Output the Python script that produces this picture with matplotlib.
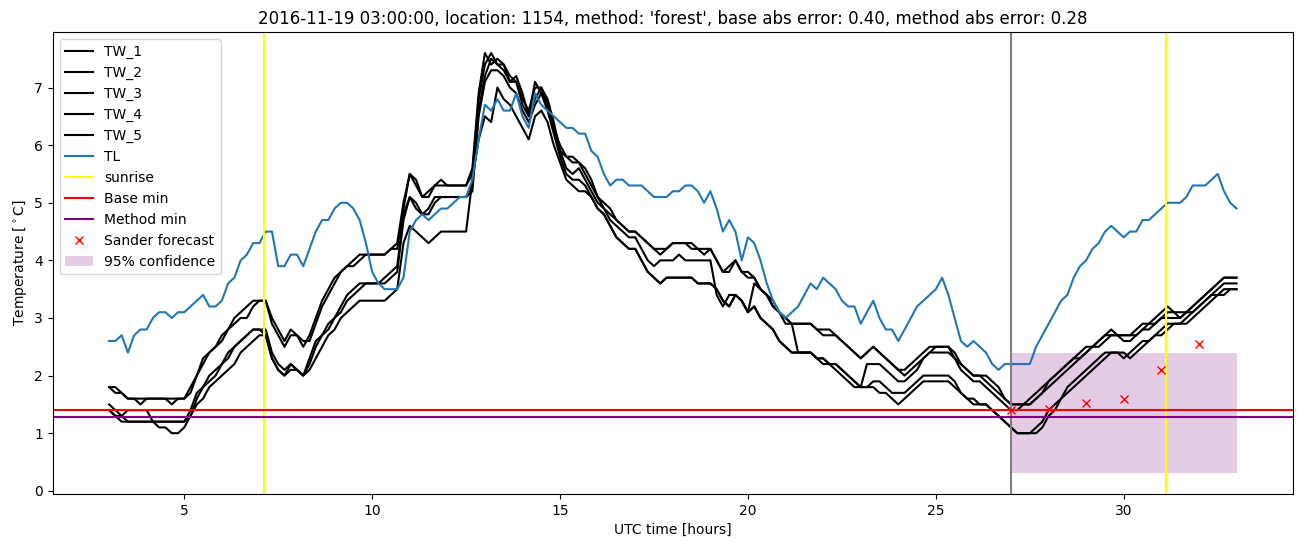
import numpy as np
import matplotlib
matplotlib.use("Agg")
import matplotlib.pyplot as plt

# time axis: 10 minute steps from 03:00 to 33:00 (UTC hours)
hours = np.linspace(3, 33, 181)

tw_1 = [1.8, 1.8, 1.7, 1.6, 1.6, 1.6, 1.6, 1.6, 1.6, 1.6, 1.6, 1.6,
        1.6, 1.8, 2.0, 2.3, 2.4, 2.5, 2.7, 2.8, 3.0, 3.1, 3.2, 3.3,
        3.3, 3.3, 3.0, 2.8, 2.6, 2.8, 2.7, 2.5, 2.7, 3.0, 3.3, 3.5,
        3.7, 3.8, 3.9, 4.0, 4.1, 4.1, 4.1, 4.1, 4.1, 4.2, 4.3, 5.0,
        5.5, 5.4, 5.1, 5.2, 5.3, 5.4, 5.3, 5.3, 5.3, 5.3, 5.6, 6.9,
        7.6, 7.4, 7.5, 7.4, 7.1, 7.2, 6.9, 6.5, 7.1, 6.9, 6.7, 6.3,
        6.0, 5.8, 5.8, 5.7, 5.6, 5.4, 5.1, 5.0, 4.9, 4.7, 4.6, 4.5,
        4.5, 4.4, 4.3, 4.2, 4.2, 4.2, 4.3, 4.3, 4.3, 4.2, 4.2, 4.2,
        4.2, 4.0, 3.8, 3.9, 4.0, 3.8, 3.8, 3.7, 3.5, 3.4, 3.3, 3.1,
        2.9, 2.9, 2.9, 2.9, 2.9, 2.8, 2.8, 2.8, 2.7, 2.6, 2.5, 2.4,
        2.3, 2.4, 2.5, 2.4, 2.3, 2.2, 2.1, 2.1, 2.2, 2.3, 2.4, 2.5,
        2.5, 2.5, 2.5, 2.4, 2.2, 2.1, 2.0, 2.0, 1.9, 1.8, 1.7, 1.6,
        1.5, 1.5, 1.5, 1.6, 1.7, 1.8, 1.9, 2.0, 2.1, 2.2, 2.3, 2.4,
        2.5, 2.5, 2.6, 2.7, 2.8, 2.7, 2.7, 2.7, 2.8, 2.9, 2.9, 3.0,
        3.1, 3.2, 3.1, 3.1, 3.1, 3.2, 3.3, 3.4, 3.5, 3.6, 3.7, 3.7,
        3.7]

tw_2 = [1.8, 1.7, 1.7, 1.6, 1.6, 1.5, 1.6, 1.6, 1.6, 1.6, 1.5, 1.6,
        1.6, 1.7, 2.0, 2.2, 2.4, 2.5, 2.6, 2.8, 2.9, 3.0, 3.0, 3.2,
        3.3, 3.3, 2.9, 2.7, 2.5, 2.7, 2.7, 2.6, 2.6, 2.9, 3.2, 3.4,
        3.6, 3.8, 3.9, 3.9, 4.0, 4.1, 4.1, 4.1, 4.1, 4.2, 4.2, 4.9,
        5.5, 5.3, 5.1, 5.1, 5.3, 5.3, 5.3, 5.3, 5.3, 5.3, 5.5, 6.8,
        7.4, 7.6, 7.4, 7.4, 7.2, 7.1, 6.8, 6.6, 7.0, 7.0, 6.8, 6.4,
        5.9, 5.8, 5.7, 5.7, 5.5, 5.3, 5.1, 4.9, 4.8, 4.7, 4.6, 4.5,
        4.5, 4.4, 4.3, 4.2, 4.1, 4.2, 4.3, 4.3, 4.3, 4.3, 4.2, 4.1,
        4.2, 4.0, 3.8, 3.8, 4.0, 3.8, 3.7, 3.7, 3.5, 3.4, 3.2, 3.1,
        3.0, 2.9, 2.9, 2.9, 2.9, 2.8, 2.7, 2.7, 2.7, 2.6, 2.5, 2.4,
        2.3, 2.4, 2.5, 2.4, 2.3, 2.2, 2.1, 2.0, 2.1, 2.2, 2.3, 2.4,
        2.5, 2.5, 2.5, 2.3, 2.2, 2.1, 2.0, 2.0, 2.0, 1.9, 1.8, 1.6,
        1.5, 1.5, 1.5, 1.5, 1.6, 1.7, 1.9, 2.0, 2.1, 2.2, 2.3, 2.3,
        2.4, 2.5, 2.6, 2.7, 2.7, 2.7, 2.7, 2.7, 2.7, 2.8, 2.9, 2.9,
        3.0, 3.1, 3.1, 3.0, 3.1, 3.2, 3.3, 3.4, 3.5, 3.6, 3.7, 3.7,
        3.7]

tw_3 = [1.5, 1.4, 1.3, 1.2, 1.2, 1.2, 1.2, 1.2, 1.2, 1.2, 1.2, 1.2,
        1.2, 1.4, 1.7, 1.8, 2.0, 2.1, 2.2, 2.4, 2.5, 2.6, 2.7, 2.8,
        2.8, 2.8, 2.4, 2.2, 2.1, 2.2, 2.1, 2.0, 2.3, 2.6, 2.7, 2.9,
        3.0, 3.2, 3.4, 3.5, 3.6, 3.6, 3.6, 3.6, 3.7, 3.8, 3.9, 4.8,
        5.1, 5.0, 4.8, 4.9, 5.1, 5.1, 5.1, 5.1, 5.1, 5.1, 5.3, 6.6,
        7.2, 7.5, 7.4, 7.3, 7.1, 7.1, 6.7, 6.5, 6.8, 7.0, 6.7, 6.3,
        5.9, 5.6, 5.5, 5.6, 5.4, 5.2, 5.0, 4.9, 4.7, 4.6, 4.5, 4.4,
        4.4, 4.2, 4.0, 3.9, 4.0, 4.0, 4.0, 4.1, 4.0, 4.0, 4.0, 4.0,
        4.0, 3.4, 3.2, 3.4, 3.4, 3.3, 3.1, 3.6, 3.5, 3.4, 3.2, 3.1,
        3.0, 2.9, 2.4, 2.4, 2.4, 2.3, 2.3, 2.2, 2.2, 2.1, 2.0, 1.9,
        1.8, 2.2, 2.2, 2.2, 2.1, 2.0, 1.9, 1.9, 2.0, 2.1, 2.3, 2.4,
        2.4, 2.4, 2.4, 2.3, 2.1, 2.0, 1.9, 1.9, 1.8, 1.7, 1.6, 1.5,
        1.4, 1.4, 1.5, 1.5, 1.6, 1.7, 1.8, 1.9, 2.0, 2.1, 2.2, 2.3,
        2.4, 2.5, 2.5, 2.6, 2.7, 2.7, 2.6, 2.6, 2.7, 2.8, 2.8, 2.9,
        3.0, 3.0, 3.0, 3.0, 3.1, 3.1, 3.2, 3.3, 3.4, 3.5, 3.6, 3.6,
        3.6]

tw_4 = [1.4, 1.3, 1.2, 1.2, 1.2, 1.2, 1.2, 1.2, 1.2, 1.2, 1.2, 1.2,
        1.2, 1.3, 1.6, 1.8, 1.9, 2.0, 2.2, 2.3, 2.5, 2.6, 2.7, 2.8,
        2.8, 2.7, 2.3, 2.1, 2.0, 2.2, 2.1, 2.0, 2.2, 2.5, 2.7, 2.8,
        3.0, 3.1, 3.3, 3.4, 3.5, 3.6, 3.6, 3.6, 3.6, 3.7, 3.8, 4.7,
        5.1, 4.9, 4.8, 4.8, 5.0, 5.1, 5.1, 5.1, 5.1, 5.1, 5.2, 6.5,
        7.1, 7.3, 7.3, 7.2, 7.0, 6.9, 6.6, 6.4, 6.7, 6.9, 6.6, 6.2,
        5.8, 5.5, 5.4, 5.4, 5.3, 5.1, 4.9, 4.8, 4.6, 4.4, 4.3, 4.2,
        4.2, 4.0, 3.8, 3.7, 3.6, 3.7, 3.7, 3.7, 3.7, 3.7, 3.6, 3.6,
        3.6, 3.5, 3.3, 3.2, 3.4, 3.3, 3.1, 3.2, 3.0, 2.9, 2.8, 2.6,
        2.5, 2.4, 2.4, 2.4, 2.4, 2.3, 2.3, 2.2, 2.2, 2.1, 2.0, 1.9,
        1.8, 1.8, 1.9, 1.9, 1.8, 1.7, 1.7, 1.7, 1.8, 1.9, 2.0, 2.0,
        2.0, 2.0, 2.0, 1.9, 1.7, 1.6, 1.6, 1.5, 1.5, 1.4, 1.3, 1.2,
        1.1, 1.0, 1.0, 1.0, 1.1, 1.2, 1.4, 1.5, 1.6, 1.8, 1.9, 2.0,
        2.1, 2.2, 2.3, 2.4, 2.4, 2.4, 2.3, 2.4, 2.5, 2.6, 2.6, 2.7,
        2.8, 2.9, 2.9, 2.9, 3.0, 3.1, 3.2, 3.3, 3.4, 3.4, 3.5, 3.5,
        3.5]

tw_5 = [1.4, 1.3, 1.3, 1.4, 1.4, 1.4, 1.4, 1.2, 1.1, 1.1, 1.0, 1.0,
        1.1, 1.3, 1.5, 1.6, 1.8, 1.9, 2.0, 2.1, 2.2, 2.4, 2.5, 2.6,
        2.7, 2.7, 2.3, 2.1, 2.0, 2.1, 2.1, 2.0, 2.1, 2.3, 2.5, 2.7,
        2.8, 3.0, 3.1, 3.2, 3.3, 3.3, 3.3, 3.3, 3.3, 3.4, 3.5, 4.3,
        4.6, 4.5, 4.4, 4.3, 4.4, 4.5, 4.5, 4.5, 4.5, 4.5, 5.4, 6.1,
        6.5, 6.4, 7.0, 6.8, 6.7, 6.5, 6.3, 6.1, 6.5, 6.6, 6.4, 6.0,
        5.7, 5.4, 5.3, 5.2, 5.2, 5.1, 4.9, 4.8, 4.6, 4.4, 4.3, 4.2,
        4.2, 4.0, 3.8, 3.7, 3.6, 3.7, 3.7, 3.7, 3.7, 3.7, 3.6, 3.6,
        3.6, 3.5, 3.3, 3.2, 3.4, 3.3, 3.1, 3.2, 3.0, 2.9, 2.8, 2.6,
        2.5, 2.4, 2.4, 2.4, 2.4, 2.3, 2.2, 2.2, 2.1, 2.0, 1.9, 1.8,
        1.8, 1.8, 1.8, 1.7, 1.7, 1.6, 1.5, 1.6, 1.7, 1.8, 1.9, 1.9,
        1.9, 1.9, 1.9, 1.8, 1.7, 1.6, 1.5, 1.5, 1.5, 1.4, 1.3, 1.2,
        1.1, 1.0, 1.0, 1.0, 1.0, 1.1, 1.3, 1.4, 1.6, 1.7, 1.8, 1.9,
        2.0, 2.1, 2.2, 2.3, 2.4, 2.4, 2.4, 2.3, 2.4, 2.5, 2.6, 2.7,
        2.7, 2.8, 2.9, 2.9, 2.9, 3.0, 3.1, 3.2, 3.3, 3.4, 3.4, 3.5,
        3.5]

tl = [2.6, 2.6, 2.7, 2.4, 2.7, 2.8, 2.8, 3.0, 3.1, 3.1, 3.0, 3.1,
      3.1, 3.2, 3.3, 3.4, 3.2, 3.2, 3.3, 3.6, 3.7, 4.0, 4.1, 4.3,
      4.3, 4.5, 4.5, 3.9, 3.9, 4.1, 4.1, 3.9, 4.2, 4.5, 4.7, 4.7,
      4.9, 5.0, 5.0, 4.9, 4.7, 4.3, 3.8, 3.6, 3.5, 3.5, 3.5, 3.7,
      4.5, 4.7, 4.8, 4.7, 4.8, 4.9, 4.9, 5.0, 5.1, 5.1, 5.4, 6.1,
      6.7, 6.6, 6.8, 6.6, 6.6, 6.9, 6.5, 6.3, 6.9, 6.7, 6.6, 6.5,
      6.4, 6.3, 6.3, 6.2, 6.2, 5.9, 5.8, 5.5, 5.3, 5.4, 5.4, 5.3,
      5.3, 5.3, 5.2, 5.1, 5.1, 5.1, 5.2, 5.2, 5.3, 5.3, 5.2, 5.0,
      5.2, 4.9, 4.5, 4.7, 4.5, 4.0, 4.4, 4.3, 4.0, 3.6, 3.3, 3.1,
      3.0, 3.1, 3.2, 3.4, 3.6, 3.5, 3.7, 3.6, 3.5, 3.3, 3.2, 3.2,
      2.9, 3.1, 3.3, 3.0, 2.8, 2.8, 2.6, 2.8, 3.0, 3.2, 3.3, 3.4,
      3.5, 3.7, 3.4, 3.0, 2.6, 2.5, 2.6, 2.5, 2.4, 2.2, 2.1, 2.2,
      2.2, 2.2, 2.2, 2.2, 2.5, 2.7, 2.9, 3.1, 3.3, 3.4, 3.7, 3.9,
      4.0, 4.2, 4.3, 4.5, 4.6, 4.5, 4.4, 4.5, 4.5, 4.7, 4.7, 4.8,
      4.9, 5.0, 5.0, 5.0, 5.1, 5.3, 5.3, 5.3, 5.4, 5.5, 5.2, 5.0,
      4.9]

sunrise = [7.117, 31.117]
forecast_time = 27.0
base_min = 1.4
method_min = 1.28
sander_hours = [27, 28, 29, 30, 31, 32]
sander_values = [1.41, 1.42, 1.52, 1.59, 2.10, 2.55]
conf_hours = [27, 33]
conf_low = [0.31, 0.31]
conf_high = [2.4, 2.4]

fig, ax = plt.subplots(figsize=(13.02, 5.47), dpi=100)

for i, tw in enumerate([tw_1, tw_2, tw_3, tw_4, tw_5]):
    ax.plot(hours, tw, color="black", label=f"TW_{i + 1}")
ax.plot(hours, tl, color="C0", label="TL")

ax.axvline(sunrise[0], color="yellow", label="sunrise")
ax.axvline(sunrise[1], color="yellow")
ax.axvline(forecast_time, color="gray")
ax.axhline(base_min, color="red", label="Base min")
ax.axhline(method_min, color="purple", label="Method min")
ax.plot(sander_hours, sander_values, "rx", label="Sander forecast")
ax.fill_between(conf_hours, conf_low, conf_high, color="purple", alpha=0.2,
                linewidth=0, label="95% confidence")

ax.set_title("2016-11-19 03:00:00, location: 1154, method: 'forest', "
             "base abs error: 0.40, method abs error: 0.28")
ax.set_xlabel("UTC time [hours]")
ax.set_ylabel(r"Temperature [$^\circ$C]")
ax.legend(loc="upper left")

fig.subplots_adjust(left=0.0405, right=0.993, top=0.9415, bottom=0.097)
fig.savefig("out.png", dpi=100)
